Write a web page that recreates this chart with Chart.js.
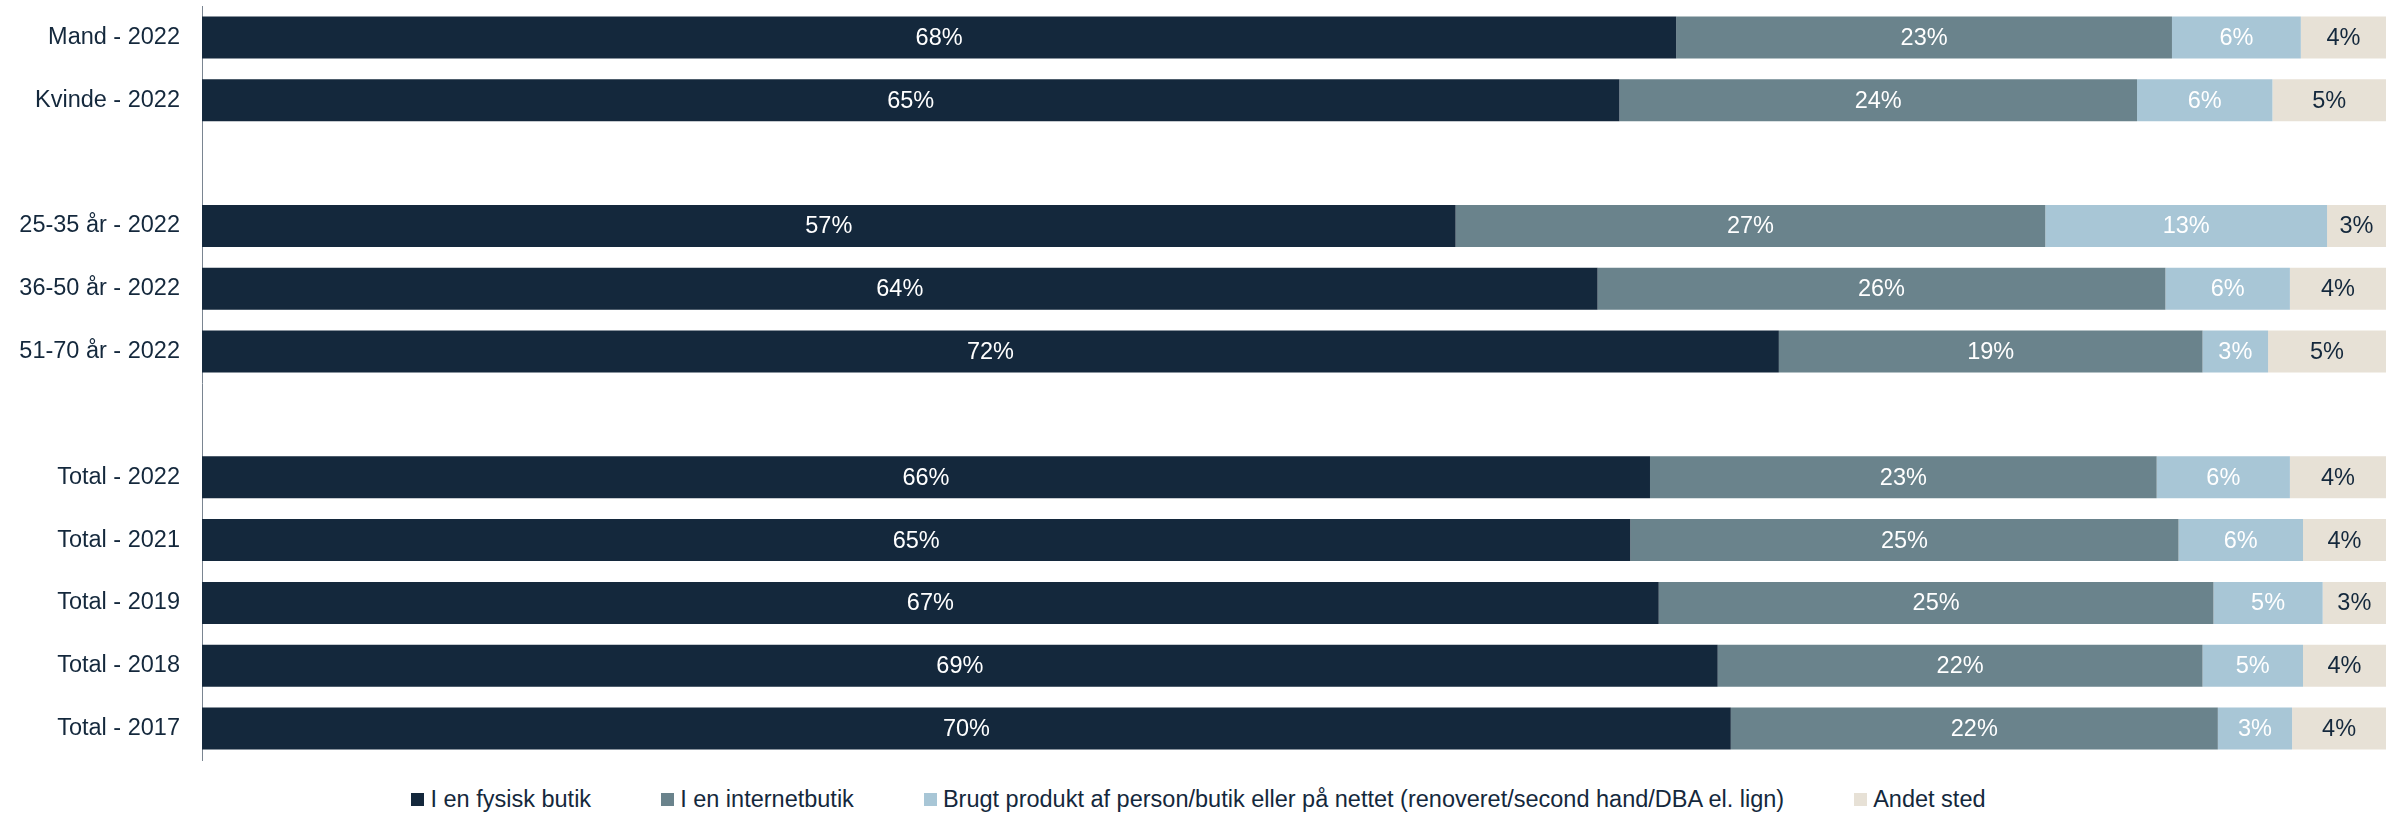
<!DOCTYPE html>
<html>
<head>
<meta charset="utf-8">
<script src="https://cdn.jsdelivr.net/npm/chart.js@4.4.1/dist/chart.umd.min.js"></script>
<style>
    body { margin: 0; background: #fff; }
    #wrap { position: relative; width: 2397px; height: 813px; }
    #chartBox { position: absolute; left: 0; top: 0; width: 2397px; height: 762px; }
    #legend {
        position: absolute; left: 0; top: 787px; width: 2397px; height: 24px;
        display: flex; justify-content: center; align-items: center; gap: 70px;
        font-family: 'Liberation Sans', Arial, sans-serif; font-size: 23.5px; color: #14283c;
    }
    #legend .item { display: flex; align-items: center; white-space: nowrap; }
    #legend .box { width: 13px; height: 13px; margin-right: 6px; }
</style>
</head>
<body>
<div id="wrap">
    <div id="chartBox"><canvas id="chart"></canvas></div>
    <div id="legend"></div>
</div>
<script>
const categories = [
    'Mand - 2022', 'Kvinde - 2022', '',
    '25-35 år - 2022', '36-50 år - 2022', '51-70 år - 2022', ' ',
    'Total - 2022', 'Total - 2021', 'Total - 2019', 'Total - 2018', 'Total - 2017'
];

const seriesNames = [
    'I en fysisk butik',
    'I en internetbutik',
    'Brugt produkt af person/butik eller på nettet (renoveret/second hand/DBA el. lign)',
    'Andet sted'
];

const fysisk   = [67.5, 64.9, null, 57.4, 63.9, 72.2, null, 66.3, 65.4, 66.7, 69.4, 70.0];
const internet = [22.7, 23.7, null, 27.0, 26.0, 19.4, null, 23.2, 25.1, 25.4, 22.2, 22.3];
const brugt    = [5.9, 6.2, null, 12.9, 5.7, 3.0, null, 6.1, 5.7, 5.0, 4.6, 3.4];
const andet    = [3.9, 5.2, null, 2.7, 4.4, 5.4, null, 4.4, 3.8, 2.9, 3.8, 4.3];

const colors = ['#14283c', '#6a838c', '#a8c6d6', '#e7e1d6'];
const labelColors = ['#ffffff', '#ffffff', '#ffffff', '#14283c'];

const FONT = "'Liberation Sans', Arial, sans-serif";

// draws the percentage inside each segment
const segmentLabels = {
    id: 'segmentLabels',
    afterDatasetsDraw(chart) {
        const ctx = chart.ctx;
        ctx.save();
        ctx.font = '23.5px ' + FONT;
        ctx.textAlign = 'center';
        ctx.textBaseline = 'middle';
        chart.data.datasets.forEach((ds, i) => {
            const meta = chart.getDatasetMeta(i);
            meta.data.forEach((bar, j) => {
                const v = ds.data[j];
                if (v === null || v === undefined) return;
                ctx.fillStyle = labelColors[i];
                ctx.fillText(Math.round(v) + '%', (bar.x + bar.base) / 2, bar.y + 1);
            });
        });
        ctx.restore();
    }
};

const seriesData = [fysisk, internet, brugt, andet];

new Chart(document.getElementById('chart').getContext('2d'), {
    type: 'bar',
    data: {
        labels: categories,
        datasets: seriesData.map((d, i) => ({
            label: seriesNames[i],
            data: d,
            backgroundColor: colors[i],
            borderWidth: 0,
            barPercentage: 0.668,
            categoryPercentage: 1
        }))
    },
    options: {
        indexAxis: 'y',
        responsive: true,
        maintainAspectRatio: false,
        animation: false,
        layout: { padding: { left: 5, right: 11, top: 6, bottom: 2 } },
        scales: {
            x: { stacked: true, min: 0, max: 100, display: false },
            y: {
                stacked: true,
                grid: { display: false, drawTicks: false },
                border: { display: true, color: '#7a8591', width: 1 },
                ticks: {
                    padding: 22,
                    color: '#14283c',
                    font: { size: 23.5, family: FONT }
                },
                afterFit: function(scale) {
                    scale.width = 197;
                    scale.paddingTop = 0;
                    scale.paddingBottom = 0;
                }
            }
        },
        plugins: {
            legend: { display: false },
            tooltip: { enabled: false }
        }
    },
    plugins: [segmentLabels]
});

// legend below the chart
const legendEl = document.getElementById('legend');
seriesNames.forEach((name, i) => {
    const item = document.createElement('div');
    item.className = 'item';
    const box = document.createElement('span');
    box.className = 'box';
    box.style.background = colors[i];
    const txt = document.createElement('span');
    txt.textContent = name;
    item.appendChild(box);
    item.appendChild(txt);
    legendEl.appendChild(item);
});
</script>
</body>
</html>
